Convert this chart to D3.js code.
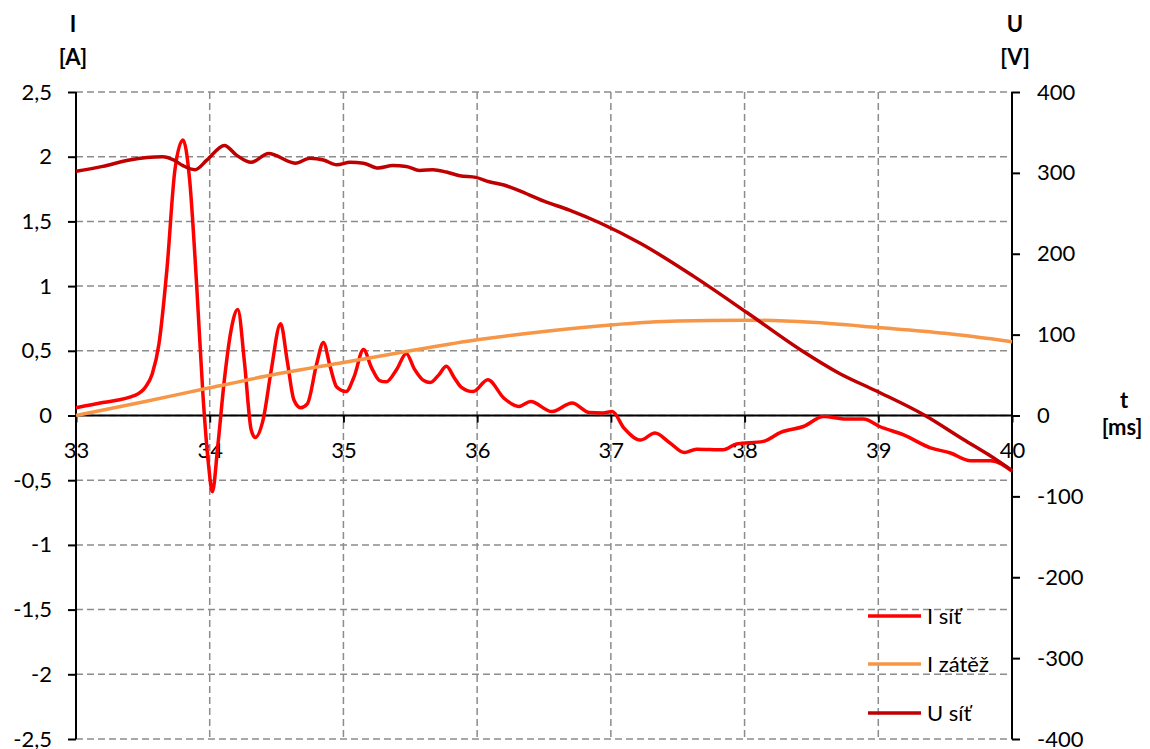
<!DOCTYPE html>
<html>
<head>
<meta charset="utf-8">
<script src="https://cdn.jsdelivr.net/npm/d3@7"></script>
<style>
  html, body { margin: 0; padding: 0; background: #fff; }
  svg { display: block; font-family: Lato, "Open Sans", sans-serif; }
</style>
</head>
<body>
<svg id="chart" width="1150" height="749"></svg>
<script>
// ---- data ----
const xTicks = [33, 34, 35, 36, 37, 38, 39, 40];
const leftTicks = [-2.5, -2, -1.5, -1, -0.5, 0, 0.5, 1, 1.5, 2, 2.5];
const rightTicks = [-400, -300, -200, -100, 0, 100, 200, 300, 400];
const seriesNames = ["I síť", "I zátěž", "U síť"];

const tISit = [33.00, 33.20, 33.44, 33.52, 33.57, 33.62, 33.68, 33.74, 33.80, 33.85, 33.90, 33.95, 33.99, 34.02, 34.06, 34.11, 34.16, 34.21, 34.26, 34.31, 34.34, 34.40, 34.46, 34.53, 34.58, 34.63, 34.68, 34.73, 34.80, 34.85, 34.90, 34.95, 35.02, 35.08, 35.15, 35.21, 35.27, 35.32, 35.40, 35.47, 35.53, 35.60, 35.65, 35.71, 35.77, 35.83, 35.88, 35.97, 36.08, 36.20, 36.31, 36.40, 36.56, 36.71, 36.84, 36.94, 37.01, 37.10, 37.22, 37.33, 37.44, 37.55, 37.64, 37.84, 37.94, 38.14, 38.27, 38.44, 38.59, 38.76, 38.89, 39.01, 39.19, 39.39, 39.54, 39.69, 39.84, 40.00];
const iSit = [0.06, 0.10, 0.155, 0.22, 0.32, 0.55, 1.13, 1.90, 2.13, 1.82, 1.05, 0.15, -0.37, -0.59, -0.24, 0.28, 0.66, 0.82, 0.41, -0.11, -0.17, -0.03, 0.35, 0.71, 0.42, 0.12, 0.06, 0.09, 0.40, 0.565, 0.38, 0.22, 0.185, 0.30, 0.51, 0.37, 0.27, 0.26, 0.36, 0.48, 0.36, 0.27, 0.255, 0.31, 0.38, 0.29, 0.22, 0.185, 0.276, 0.134, 0.07, 0.108, 0.03, 0.096, 0.023, 0.02, 0.03, -0.10, -0.19, -0.136, -0.21, -0.286, -0.26, -0.265, -0.22, -0.20, -0.13, -0.085, -0.008, -0.028, -0.028, -0.085, -0.15, -0.25, -0.29, -0.35, -0.35, -0.43];

const tIZatez = [33.0, 33.5, 34.0, 34.5, 35.0, 35.5, 36.0, 36.5, 37.0, 37.5, 38.0, 38.5, 39.0, 39.5, 40.0];
const iZatez = [0.0, 0.105, 0.214, 0.32, 0.41, 0.50, 0.585, 0.65, 0.70, 0.73, 0.737, 0.72, 0.68, 0.635, 0.57];

const tUSit = [33.00, 33.20, 33.40, 33.65, 33.73, 33.80, 33.89, 33.98, 34.11, 34.20, 34.31, 34.44, 34.64, 34.75, 34.85, 34.95, 35.05, 35.15, 35.26, 35.37, 35.47, 35.57, 35.67, 35.77, 35.87, 35.99, 36.09, 36.20, 36.30, 36.50, 36.69, 36.92, 37.22, 37.62, 38.02, 38.42, 38.71, 38.99, 39.35, 39.64, 39.82, 40.00];
const uSit = [302, 308, 316, 320, 316, 309, 304, 316, 334, 322, 313, 324, 312, 318, 316, 310, 313, 312, 306, 309, 308, 303, 304, 301, 296.5, 294.4, 289, 285, 279, 265, 254, 238, 213, 172, 127, 81, 52, 30, 0, -30, -48, -68];

// ---- layout ----
const svg = d3.select("#chart");
const x = d3.scaleLinear().domain([33, 40]).range([76, 1012]);
const yL = d3.scaleLinear().domain([-2.5, 2.5]).range([739, 92]);
const yR = d3.scaleLinear().domain([-400, 400]).range([739, 92]);
const fmt = d => String(d).replace(".", ",");
const colors = ["#FF0000", "#F79646", "#C00000"];
const fontSize = 22;

// grid
const grid = svg.append("g").attr("stroke", "#8c8c8c").attr("stroke-width", 1.5).attr("stroke-dasharray", "7,4").attr("fill", "none");
leftTicks.forEach(v => {
  grid.append("line").attr("x1", x(33)).attr("x2", x(40)).attr("y1", yL(v)).attr("y2", yL(v));
});
xTicks.forEach(v => {
  grid.append("line").attr("x1", x(v)).attr("x2", x(v)).attr("y1", yL(2.5)).attr("y2", yL(-2.5));
});

// axes
const styleAxis = g => {
  g.select(".domain").remove();
  g.selectAll(".tick line").attr("stroke", "#000").attr("stroke-width", 2);
  g.selectAll(".tick text").attr("fill", "#000").attr("font-size", fontSize).attr("font-family", "Lato, 'Open Sans', sans-serif");
};

svg.append("g").attr("transform", `translate(${x(33)},0)`)
  .call(d3.axisLeft(yL).tickValues(leftTicks).tickFormat(fmt).tickSize(8).tickPadding(16))
  .call(styleAxis);
svg.append("g").attr("transform", `translate(${x(40)},0)`)
  .call(d3.axisRight(yR).tickValues(rightTicks).tickFormat(fmt).tickSize(8).tickPadding(17))
  .call(styleAxis);
svg.append("g").attr("transform", `translate(0,${yL(0)})`)
  .call(d3.axisBottom(x).tickValues(xTicks).tickFormat(fmt).tickSize(7).tickPadding(20))
  .call(styleAxis);

// axis lines
const axl = svg.append("g").attr("stroke", "#000").attr("stroke-width", 2);
axl.append("line").attr("x1", x(33)).attr("x2", x(33)).attr("y1", yL(2.5)).attr("y2", yL(-2.5));
axl.append("line").attr("x1", x(40)).attr("x2", x(40)).attr("y1", yL(2.5)).attr("y2", yL(-2.5));
axl.append("line").attr("x1", x(33)).attr("x2", x(40)).attr("y1", yL(0)).attr("y2", yL(0));

// series
const curve = d3.curveMonotoneX;
const lineL = d3.line().x(d => x(d[0])).y(d => yL(d[1])).curve(curve);
const lineR = d3.line().x(d => x(d[0])).y(d => yR(d[1])).curve(curve);

svg.append("path").datum(d3.zip(tISit, iSit)).attr("d", lineL)
  .attr("fill", "none").attr("stroke", colors[0]).attr("stroke-width", 3.5).attr("stroke-linejoin", "round");
svg.append("path").datum(d3.zip(tIZatez, iZatez)).attr("d", lineL)
  .attr("fill", "none").attr("stroke", colors[1]).attr("stroke-width", 3.5).attr("stroke-linejoin", "round");
svg.append("path").datum(d3.zip(tUSit, uSit)).attr("d", lineR)
  .attr("fill", "none").attr("stroke", colors[2]).attr("stroke-width", 3.5).attr("stroke-linejoin", "round");

// axis titles
const titles = svg.append("g").attr("font-weight", "bold").attr("font-size", fontSize).attr("fill", "#000").attr("text-anchor", "middle");
titles.append("text").attr("x", 73).attr("y", 32).text("I");
titles.append("text").attr("x", 73).attr("y", 65).text("[A]");
titles.append("text").attr("x", 1015).attr("y", 32).text("U");
titles.append("text").attr("x", 1015).attr("y", 65).text("[V]");
titles.append("text").attr("x", 1124).attr("y", 408).text("t");
titles.append("text").attr("x", 1122).attr("y", 435).text("[ms]");

// legend
const legY = [616, 664, 713];
const leg = svg.append("g");
seriesNames.forEach((n, i) => {
  leg.append("line").attr("x1", 868).attr("x2", 921).attr("y1", legY[i]).attr("y2", legY[i])
    .attr("stroke", colors[i]).attr("stroke-width", 3.5);
  leg.append("text").attr("x", 927).attr("y", legY[i]).attr("dy", "0.35em")
    .attr("font-size", fontSize).attr("fill", "#000").text(n);
});
</script>
</body>
</html>
